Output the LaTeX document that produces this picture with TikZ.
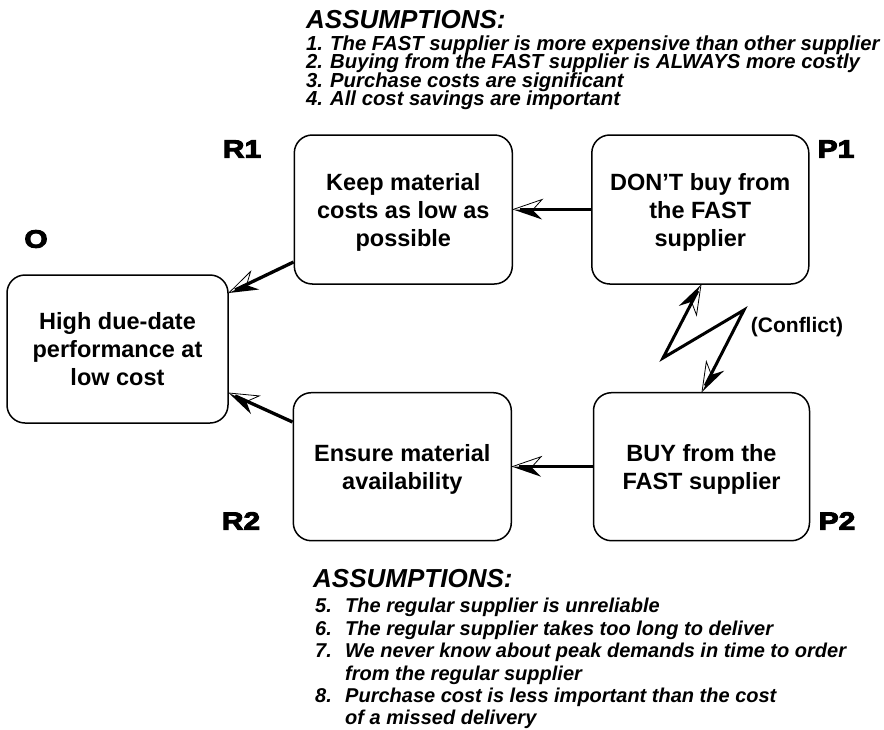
\documentclass[tikz,border=0pt]{standalone}
\usepackage{fontspec}
\setmainfont{Liberation Sans}
\newfontfamily\tagfont{Liberation Sans}[FakeStretch=1.2,FakeBold=4]
\usetikzlibrary{arrows.meta}

% barbed tip: left half filled, right half drawn as a thin outline
\pgfdeclarearrow{
  name = HalfBarb,
  parameters = {},
  setup code = {
    \pgfarrowssettipend{0pt}
    \pgfarrowssetbackend{-28pt}
    \pgfarrowssetlineend{-7pt}
  },
  drawing code = {
    \pgfpathmoveto{\pgfqpoint{0pt}{0pt}}
    \pgfpathlineto{\pgfqpoint{-29pt}{10pt}}
    \pgfpathlineto{\pgfqpoint{-20pt}{1pt}}
    \pgfpathlineto{\pgfqpoint{-20pt}{0pt}}
    \pgfpathclose
    \pgfusepathqfill
    \pgfsetlinewidth{0.8pt}
    \pgfsetmiterjoin
    \pgfpathmoveto{\pgfqpoint{-20pt}{0pt}}
    \pgfpathlineto{\pgfqpoint{-29pt}{-10pt}}
    \pgfpathlineto{\pgfqpoint{0pt}{0pt}}
    \pgfusepathqstroke
  },
}

\begin{document}
\begin{tikzpicture}[x=1pt,y=-1pt,
  box/.style={draw, line width=1.5pt, rounded corners=18pt, align=center,
              inner sep=0pt, text depth=0pt, font=\fontsize{23.5}{28}\selectfont\bfseries},
  conn/.style={line width=3.3pt, -{HalfBarb}},
  bolt/.style={line width=3pt, line join=miter, {HalfBarb}-{HalfBarb}},
  tag/.style={font=\tagfont\bfseries\fontsize{25}{25}\selectfont, inner sep=0pt},
  ahead/.style={font=\fontsize{26}{26}\selectfont\bfseries\itshape, anchor=base west, inner sep=0pt},
  aitem/.style={font=\fontsize{20}{20}\selectfont\bfseries\itshape, anchor=base west, inner sep=0pt},
  aitemtop/.style={aitem, font=\fontsize{20.3}{20.3}\selectfont\bfseries\itshape},
]
\useasboundingbox (0,0) rectangle (884,729);

% the five boxes of the cloud
\node[box, minimum width=221pt, minimum height=148pt] (o)  at (117.5,349)   {High due-date\\performance at\\low cost};
\node[box, minimum width=218pt, minimum height=149pt] (r1) at (403.3,209.5) {Keep material\\costs as low as\\possible};
\node[box, minimum width=217pt, minimum height=149pt] (p1) at (700.3,209.5) {DON’T buy from\\the FAST\\supplier};
\node[box, minimum width=218pt, minimum height=148pt] (r2) at (402.3,466.7) {Ensure material\\availability};
\node[box, minimum width=216pt, minimum height=148pt] (p2) at (701.5,466.7) {BUY from the\\FAST supplier};

% box letters
\node[tag] (tagO)  at (36,239)  {O};
\node[tag] (tagR1) at (242,149) {R1};
\node[tag] (tagP1) at (836,149) {P1};
\node[tag] (tagR2) at (241,521) {R2};
\node[tag] (tagP2) at (837,521) {P2};

% necessity arrows
\draw[conn] (p1) -- (r1);
\draw[conn] (p2) -- (r2);
\draw[conn] ([yshift=-52.5pt]r1.west) -- ([yshift=56pt]o.east);
\draw[conn] ([yshift=44.7pt]r2.west) -- ([yshift=-44pt]o.east);

% conflict lightning bolt
\coordinate (zigA) at (663,358);
\coordinate (zigB) at (744,310);
\draw[bolt] ([xshift=0.7pt]p1.south) -- (zigA) -- (zigB) -- ([xshift=0.5pt]p2.north);
\node[font=\fontsize{21}{21}\selectfont\bfseries, inner sep=0pt] (conflict) at (797,327) {(Conflict)};

% assumptions behind R1 -> P1
\node[ahead] (headA) at (306,28) {ASSUMPTIONS:};
\node[aitemtop] (a1) at (306,50)   {\makebox[24pt][l]{1.}The FAST supplier is more expensive than other supplier};
\node[aitemtop] (a2) at (306,68.5) {\makebox[24pt][l]{2.}Buying from the FAST supplier is ALWAYS more costly};
\node[aitemtop] (a3) at (306,87)   {\makebox[24pt][l]{3.}Purchase costs are significant};
\node[aitemtop] (a4) at (306,105.5){\makebox[24pt][l]{4.}All cost savings are important};

% assumptions behind R2 -> P2
\node[ahead] (headB) at (313,587) {ASSUMPTIONS:};
\node[aitem] (a5)  at (315,612.5) {\makebox[30pt][l]{5.}The regular supplier is unreliable};
\node[aitem] (a6)  at (315,635)   {\makebox[30pt][l]{6.}The regular supplier takes too long to deliver};
\node[aitem] (a7)  at (315,657.5) {\makebox[30pt][l]{7.}We never know about peak demands in time to order};
\node[aitem] (a7b) at (345,680)   {from the regular supplier};
\node[aitem] (a8)  at (315,702.5) {\makebox[30pt][l]{8.}Purchase cost is less important than the cost};
\node[aitem] (a8b) at (345,724.5) {of a missed delivery};
\end{tikzpicture}
\end{document}
